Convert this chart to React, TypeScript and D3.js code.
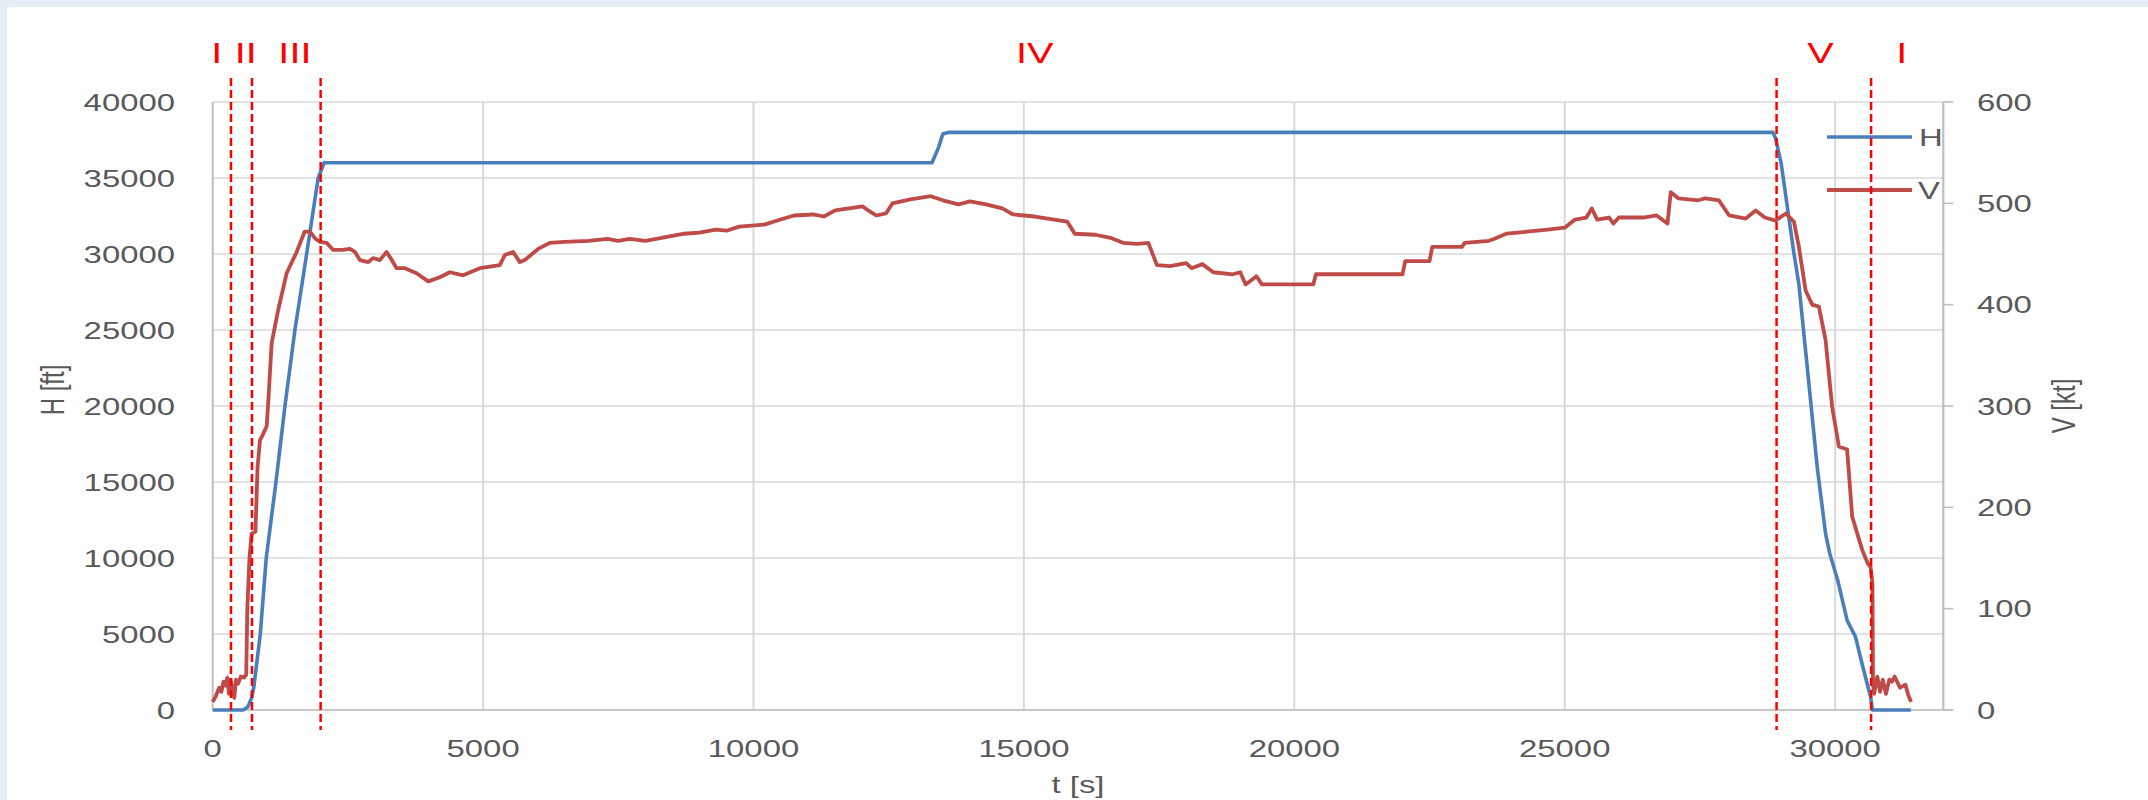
import React from "react";
import * as d3 from "d3";

// ---------- data ----------
const hSeries: [number, number][] = [
  [0, 0], [560, 0], [650, 200], [720, 800], [760, 1500], [880, 5000], [990, 10000],
  [1170, 15000], [1336, 20000], [1520, 25000], [1737, 30000], [1950, 35000], [2060, 36000],
  [4000, 36000], [7000, 36000], [10000, 36000], [13300, 36000], [13420, 37000], [13500, 37900],
  [13600, 38000], [20000, 38000], [25000, 38000], [28850, 38000], [28900, 37600], [29000, 36000],
  [29100, 33500], [29240, 30000], [29330, 28000], [29514, 21500], [29668, 16000], [29823, 11600],
  [29900, 10300], [30050, 8500], [30222, 5900], [30378, 4800], [30500, 3000], [30655, 875],
  [30690, 0], [31400, 0],
];

const vSeries: [number, number][] = [
  [0, 8], [60, 14], [120, 22], [160, 18], [200, 28], [240, 24], [270, 32], [300, 16], [330, 30],
  [360, 22], [400, 12], [430, 30], [470, 26], [520, 33], [580, 32], [620, 35], [640, 100],
  [680, 150], [720, 174], [790, 176], [830, 240], [874, 266], [930, 272], [998, 280], [1030, 306],
  [1090, 362], [1212, 395], [1367, 431], [1552, 452], [1700, 472], [1798, 472], [1900, 465],
  [1983, 462], [2106, 461], [2229, 454], [2400, 454], [2537, 455], [2630, 452], [2722, 444],
  [2876, 442], [2968, 446], [3092, 444], [3215, 452], [3300, 445], [3400, 436], [3554, 436],
  [3770, 431], [3985, 423], [4200, 427], [4385, 432], [4631, 429], [4940, 436], [5309, 439],
  [5402, 449], [5556, 452], [5679, 442], [5771, 444], [6017, 455], [6233, 461], [6500, 462],
  [6950, 463], [7300, 465], [7500, 463], [7710, 465], [8000, 463], [8300, 466], [8720, 470], [9000, 471],
  [9300, 474], [9500, 473], [9735, 477], [10200, 479], [10500, 484], [10750, 488], [11100, 489], [11300, 487], [11510, 493],
  [12015, 497], [12150, 492], [12270, 488], [12450, 490], [12570, 500], [12900, 504], [13280, 507],
  [13500, 503], [13790, 499], [14000, 502], [14300, 499], [14600, 495], [14800, 489], [15200, 487],
  [15560, 484], [15800, 482], [15940, 470], [16320, 469], [16600, 466], [16830, 461], [17100, 460],
  [17300, 461], [17460, 439], [17700, 438], [18000, 441], [18100, 436], [18300, 440], [18500, 432],
  [18860, 430], [19000, 432], [19100, 420], [19300, 428], [19400, 420], [20350, 420], [20400, 430],
  [22000, 430], [22050, 443], [22500, 443], [22550, 457], [23100, 457], [23150, 461], [23600, 463],
  [23700, 465], [23920, 470], [24300, 472], [24680, 474], [25000, 476], [25190, 484], [25400, 486],
  [25500, 495], [25600, 484], [25820, 486], [25900, 480], [26000, 486], [26450, 486], [26700, 488],
  [26900, 480], [26960, 511], [27100, 505], [27470, 503], [27600, 505], [27850, 503], [28040, 488],
  [28345, 485], [28530, 493], [28700, 486], [28900, 483], [29085, 490], [29238, 482], [29330, 457],
  [29454, 414], [29576, 400], [29700, 398], [29823, 365], [29945, 299], [30069, 260], [30222, 257],
  [30315, 191], [30500, 158], [30600, 145], [30655, 141], [30690, 125], [30700, 26], [30720, 16],
  [30780, 33], [30830, 18], [30880, 30], [30940, 16], [31000, 30], [31050, 28], [31100, 33],
  [31200, 22], [31300, 25], [31350, 15], [31404, 8],
];

const xTicks = [0, 5000, 10000, 15000, 20000, 25000, 30000];
const hTicks = [0, 5000, 10000, 15000, 20000, 25000, 30000, 35000, 40000];
const vTicks = [0, 100, 200, 300, 400, 500, 600];
const phaseLines = [338, 726, 1996, 28917, 30665];
const phaseLabels: [string, number][] = [
  ["I", 75], ["II", 610], ["III", 1520], ["IV", 15200], ["V", 29730], ["I", 31230],
];
const seriesNames = ["H", "V"];

// ---------- layout ----------
const W = 2148, H = 800;
const left = 212.7, right = 1943.3, top = 102, bottom = 710;
const SX = 1.37;
const BLUE = "#4A7EBB", RED = "#BE4B48", DASH = "#FF0000";
const TXT = "#595959", GRID = "#d9d9d9", AXIS = "#bfbfbf";
const FONT = "'Liberation Sans', Arial, sans-serif";

function SText(props: { x: number; y: number; anchor?: string; size?: number; fill?: string; rotate?: number; children: any }) {
  const { x, y, anchor = "start", size = 24, fill = TXT, rotate = 0, children } = props;
  return (
    <text
      transform={`translate(${x},${y}) scale(${SX},1) rotate(${rotate})`}
      textAnchor={anchor}
      fontSize={size}
      fill={fill}
      fontFamily={FONT}
    >
      {children}
    </text>
  );
}

export default function App() {
  const x = d3.scaleLinear().domain([0, 32000]).range([left, right]);
  const yH = d3.scaleLinear().domain([0, 40000]).range([bottom, top]);
  const yV = d3.scaleLinear().domain([0, 600]).range([bottom, top]);

  const lineH = d3.line<[number, number]>().x((d) => x(d[0])).y((d) => yH(d[1]));
  const lineV = d3.line<[number, number]>().x((d) => x(d[0])).y((d) => yV(d[1]));

  return (
    <svg width={W} height={H} style={{ position: "absolute", left: 0, top: 0 }}>
      <rect x={0} y={0} width={W} height={H} fill="#e6edf7" />
      <rect x={7} y={7} width={W - 7} height={H - 7} fill="#ffffff" />

      {/* gridlines */}
      {hTicks.map((t) => (
        <line key={"hg" + t} x1={left} x2={right} y1={yH(t)} y2={yH(t)} stroke={GRID} strokeWidth={1.5} />
      ))}
      {xTicks.map((t) => (
        <line key={"vg" + t} x1={x(t)} x2={x(t)} y1={top} y2={bottom} stroke={t === 0 ? AXIS : GRID} strokeWidth={2} />
      ))}
      {/* axes */}
      <line x1={left} x2={right + 10} y1={bottom} y2={bottom} stroke={AXIS} strokeWidth={1.6} />
      <line x1={right} x2={right} y1={top} y2={bottom} stroke={AXIS} strokeWidth={2.2} />
      {vTicks.map((t) => (
        <line key={"vt" + t} x1={right} x2={right + 10} y1={yV(t)} y2={yV(t)} stroke={AXIS} strokeWidth={1.6} />
      ))}

      {/* tick labels */}
      {hTicks.map((t) => (
        <SText key={"hl" + t} x={175} y={yH(t) + 8.5} anchor="end">{t}</SText>
      ))}
      {vTicks.map((t) => (
        <SText key={"vl" + t} x={1977} y={yV(t) + 8.5} anchor="start">{t}</SText>
      ))}
      {xTicks.map((t) => (
        <SText key={"xl" + t} x={x(t)} y={757} anchor="middle">{t}</SText>
      ))}

      {/* axis titles */}
      <SText x={64} y={390} anchor="middle" rotate={-90}>H [ft]</SText>
      <SText x={2075} y={406} anchor="middle" rotate={-90}>V [kt]</SText>
      <SText x={1078} y={793} anchor="middle">t [s]</SText>

      {/* series */}
      <path d={lineH(hSeries) || ""} fill="none" stroke={BLUE} strokeWidth={3.6} strokeLinejoin="round" />
      <path d={lineV(vSeries) || ""} fill="none" stroke={RED} strokeWidth={3.8} strokeLinejoin="round" />

      {/* legend */}
      <line x1={1827} x2={1912} y1={137} y2={137} stroke={BLUE} strokeWidth={3.6} />
      <SText x={1919} y={145.5} anchor="start">{seriesNames[0]}</SText>
      <line x1={1827} x2={1912} y1={190} y2={190} stroke={RED} strokeWidth={3.8} />
      <SText x={1918} y={198.5} anchor="start">{seriesNames[1]}</SText>

      {/* phase lines */}
      {phaseLines.map((t, i) => (
        <line key={"pl" + i} x1={x(t)} x2={x(t)} y1={78} y2={730} stroke={DASH} strokeWidth={2.5} strokeDasharray="8,4" />
      ))}
      {phaseLabels.map(([s, t], i) => (
        <SText key={"plab" + i} x={x(t)} y={63} anchor="middle" size={29} fill={DASH}>{s}</SText>
      ))}
    </svg>
  );
}
